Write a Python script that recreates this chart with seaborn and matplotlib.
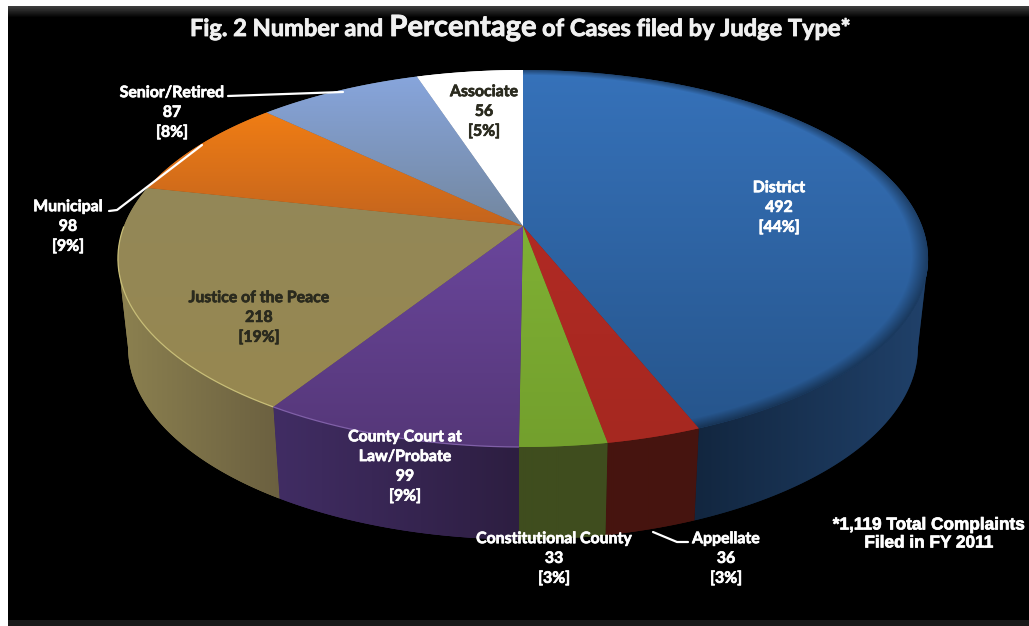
import numpy as np
import matplotlib
matplotlib.use("Agg")
import matplotlib.pyplot as plt
import matplotlib.patheffects as pe
from matplotlib.patches import Polygon, Rectangle
import seaborn as sns

# ---- data ----
categories = ["District", "Appellate", "Constitutional County", "County Court at\nLaw/Probate",
              "Justice of the Peace", "Municipal", "Senior/Retired", "Associate"]
values = [492, 36, 33, 99, 218, 98, 87, 56]
top_high = ["#3672BA", "#B02A24", "#7FB034", "#6A469C", "#938858", "#F07D14", "#87A5DC", "#FFFFFF"]
top_low = ["#26558C", "#A62820", "#73A02D", "#553778", "#978750", "#C3641E", "#73879F", "#FFFFFF"]
wall_left = ["#12263F", "#46140F", "#3F4D1E", "#412D64", "#8C8150", "#8C8150", "#8C8150", "#FFFFFF"]
wall_right = ["#20416A", "#46140F", "#3F4D1E", "#2D1E41", "#6B6040", "#6B6040", "#6B6040", "#FFFFFF"]
text_colors = ["white", "white", "white", "white", "#2A2A1E", "white", "white", "#2A2A1E"]
label_x = [779, 726, 554, 405, 259, 68, 172, 484]
label_y = [208, 559, 559, 467, 318, 227, 113, 112]
title_parts = ["Fig. 2 Number and ", "Percentage", " of Cases filed by Judge Type*"]
title_sizes = [17, 21, 17]
footnote = "*1,119 Total Complaints\nFiled in FY 2011"

W, H = 1029, 626
sns.set_theme(style="white")
plt.rcParams["font.family"] = ["Lato", "DejaVu Sans"]
fig = plt.figure(figsize=(W / 100, H / 100), dpi=100, facecolor="white")
ax = fig.add_axes([0, 0, 1, 1])

wedges, _ = ax.pie(values, startangle=90, counterclock=False, radius=1, center=(0, 0))
for wd in wedges:
    wd.set_visible(False)
ax.set_aspect("auto")
ax.set_xlim(0, W)
ax.set_ylim(H, 0)
ax.set_axis_off()

# panel
ax.add_patch(Rectangle((8, 6), W - 8, H - 6, fc="black", ec="none", zorder=0))
band = np.linspace(0.24, 0, 12)[:, None]
ax.imshow(band, extent=(8, W, 18, 6), cmap="gray", vmin=0, vmax=1, aspect="auto", zorder=0.5)
ax.add_patch(Rectangle((8, 620), W - 8, 6, fc="#191919", ec="none", zorder=0.5))

# perspective of the disc
CX, CY, A, B, K = 523, 226, 399, 182.9, 0.1724


def project(x, y, dy=0.0, sa=1.0, sb=1.0):
    w = 1 + K * y
    return CX + sa * A * x / w, CY + dy - sb * B * y / w


def hexrgb(c):
    return np.array(matplotlib.colors.to_rgb(c))


xx, yy = np.meshgrid(np.arange(W) + 0.5, np.arange(H) + 0.5)

# side wall: only the part between the two silhouette points of the disc
for i, wd in enumerate(wedges):
    t = np.radians(np.linspace(wd.theta1, wd.theta2, 240))
    t = t[np.sin(t) < -K]
    if len(t) < 2:
        continue
    xs, ys = np.cos(t), np.sin(t)
    x0, y0 = project(xs, ys)
    x1, y1 = project(xs, ys, 88, 0.975, 1.02)
    poly = Polygon(np.column_stack([np.r_[x0, x1[::-1]], np.r_[y0, y1[::-1]]]), closed=True,
                   fc=wall_left[i], ec="none", zorder=1)
    ax.add_patch(poly)
    lo, hi = min(x0.min(), x1.min()), max(x0.max(), x1.max())
    fx = np.clip((xx - lo) / (hi - lo), 0, 1)[..., None]
    img = hexrgb(wall_left[i]) * (1 - fx) + hexrgb(wall_right[i]) * fx
    im = ax.imshow(img, extent=(0, W, H, 0), aspect="auto", zorder=1.2, interpolation="nearest")
    im.set_clip_path(poly)

# top surface
v = (yy - CY) / B
uy = -v / (1 + K * v)
ux = (xx - CX) * (1 + K * uy) / A
rr = np.hypot(ux, uy)
for i, wd in enumerate(wedges):
    t = np.radians(np.linspace(wd.theta1, wd.theta2, 240))
    px, py = project(np.cos(t), np.sin(t))
    verts = np.column_stack([np.r_[CX, px], np.r_[CY, py]])
    poly = Polygon(verts, closed=True, fc=top_low[i], ec="none", zorder=1.9)
    ax.add_patch(poly)
    fy = np.clip((yy - verts[:, 1].min()) / np.ptp(verts[:, 1]), 0, 1)[..., None]
    img = hexrgb(top_high[i]) * (1 - fy) + hexrgb(top_low[i]) * fy
    if i == 0:
        img = img * (1 - 0.4 * np.clip((rr - 0.96) / 0.04, 0, 1))[..., None]
    im = ax.imshow(np.clip(img, 0, 1), extent=(0, W, H, 0), aspect="auto", zorder=2, interpolation="nearest")
    im.set_clip_path(poly)
    # light rim on the front edge of the olive and purple slices
    if categories[i].startswith(("Justice", "County")):
        front = np.sin(t) < 0.0
        ax.plot(px[front], py[front], color="#C8BE78" if i == 4 else "#8060A8", lw=0.9, zorder=3,
                solid_capstyle="butt")
ax.set_xlim(0, W)
ax.set_ylim(H, 0)

# leader lines
for lx, ly in [([228, 343], [96, 92]), ([109, 117, 202], [211, 210, 145]), ([653, 677, 688], [532, 542, 542])]:
    ax.plot(lx, ly, color="white", lw=1.6, zorder=4, solid_capstyle="round")

# labels
total = sum(values)
for name, val, x, y, col in zip(categories, values, label_x, label_y, text_colors):
    tx = ax.text(x, y, f"{name}\n{val}\n[{round(100 * val / total)}%]", color=col, ha="center", va="center",
                 multialignment="center", fontsize=11.4, fontweight="bold", linespacing=1.52, zorder=5)
    tx.set_path_effects([pe.withStroke(linewidth=0.5, foreground=col)])
fn = ax.text(929, 534, footnote, color="white", ha="center", va="center", multialignment="center",
             fontsize=12.4, fontweight="bold", family="Liberation Sans", linespacing=1.25, zorder=5)
fn.set_path_effects([pe.withStroke(linewidth=0.5, foreground="white")])

# title, three sizes on one baseline
renderer = fig.canvas.get_renderer()
cur = 190
for part, size in zip(title_parts, title_sizes):
    tx = ax.text(cur, 36, part.replace(" ", "\u00a0"), color="#F0F0F0", fontsize=size, fontweight="bold",
                 ha="left", va="baseline", zorder=5)
    tx.set_path_effects([pe.withStroke(linewidth=0.6, foreground="#F0F0F0")])
    cur += tx.get_window_extent(renderer).width

fig.savefig("out.png", dpi=100, facecolor="white")
